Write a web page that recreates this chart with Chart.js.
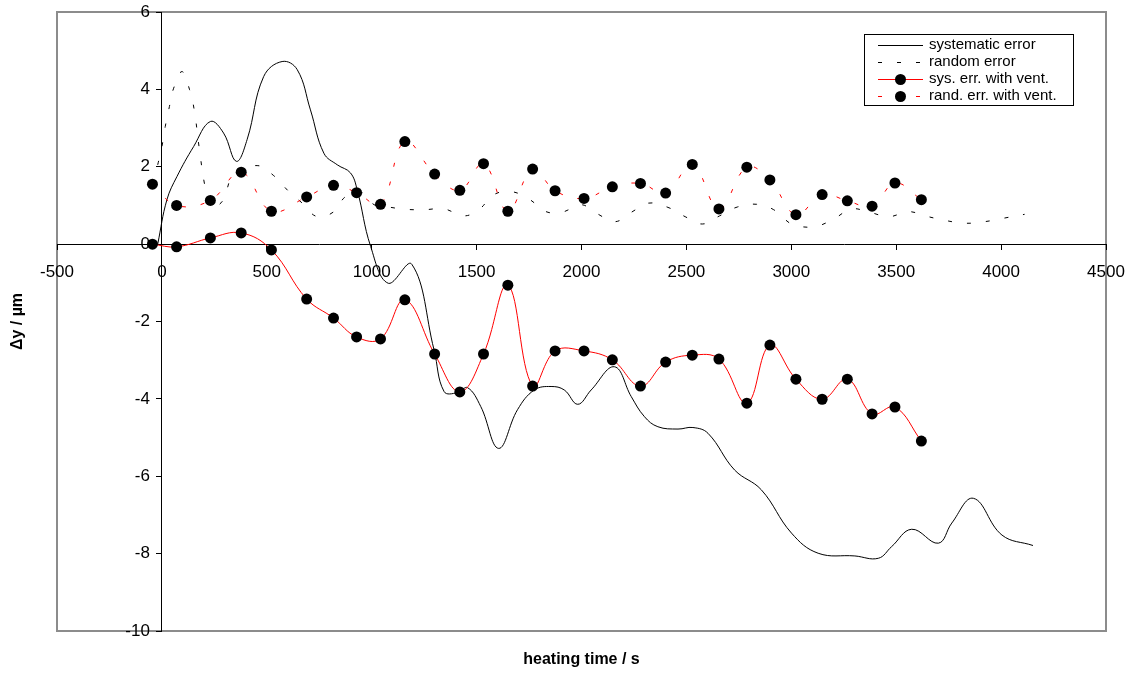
<!DOCTYPE html>
<html>
<head>
<meta charset="utf-8">
<script src="https://cdn.jsdelivr.net/npm/chart.js@4/dist/chart.umd.min.js"></script>
<style>
  html, body { margin: 0; padding: 0; background: #fff; }
  canvas { display: block; }
</style>
</head>
<body>
<canvas id="c" width="1127" height="675"></canvas>
<script>
const FONT = '"Liberation Sans", Arial, Helvetica, sans-serif';

// Heating time (s) of the ventilated measurements
const ventTime = [-45, 70, 231, 378, 522, 690, 818, 928, 1042, 1158, 1300, 1420, 1533, 1649, 1767,
                  1874, 2012, 2147, 2281, 2401, 2528, 2655, 2788, 2898, 3022, 3147, 3267, 3385, 3494, 3620];
// Systematic error with ventilation (µm)
const sysVent = [0.00, -0.07, 0.16, 0.29, -0.15, -1.42, -1.91, -2.40, -2.45, -1.44, -2.84, -3.82, -2.84, -1.06, -3.67,
                 -2.76, -2.76, -2.99, -3.67, -3.05, -2.87, -2.97, -4.11, -2.61, -3.49, -4.01, -3.49, -4.39, -4.21, -5.09];
// Random error with ventilation (µm)
const randVent = [1.55, 1.00, 1.13, 1.86, 0.85, 1.22, 1.52, 1.33, 1.03, 2.65, 1.81, 1.39, 2.08, 0.85, 1.94,
                  1.38, 1.18, 1.48, 1.57, 1.32, 2.06, 0.91, 1.99, 1.66, 0.76, 1.28, 1.12, 0.98, 1.58, 1.15];

// Systematic error without ventilation
const sysTime = [-20, 24, 72, 151, 231, 294, 355, 406, 485, 573, 645, 708, 772, 836, 899, 931, 995, 1078, 1191,
                 1297, 1345, 1409, 1457, 1520, 1605, 1695, 1775, 1855, 1918, 1982, 2046, 2157, 2237, 2300, 2364,
                 2460, 2531, 2603, 2730, 2857, 3001, 3128, 3303, 3415, 3478, 3574, 3701, 3765, 3868, 4004, 4152];
const sysErr = [0.00, 1.15, 1.75, 2.52, 3.17, 2.87, 2.14, 2.70, 4.33, 4.72, 4.51, 3.47, 2.35, 2.05, 1.84, 1.40, -0.06, -1.01, -0.52,
                -2.73, -3.81, -3.84, -3.71, -4.20, -5.28, -4.28, -3.77, -3.68, -3.77, -4.14, -3.77, -3.17, -3.94, -4.46, -4.72,
                -4.78, -4.74, -4.89, -5.84, -6.35, -7.47, -7.99, -8.06, -8.12, -7.82, -7.37, -7.73, -7.21, -6.57, -7.52, -7.79];

// Random error without ventilation
const randTime = [-20, 0, 16, 36, 56, 96, 132, 154, 178, 204, 231, 287, 342, 454, 533, 605, 669, 740, 820, 876,
                  955, 1011, 1067, 1162, 1249, 1345, 1440, 1515, 1579, 1663, 1751, 1831, 1910, 1998, 2077, 2160,
                  2240, 2319, 2412, 2494, 2576, 2658, 2743, 2834, 2916, 2993, 3033, 3120, 3208, 3287, 3375, 3466,
                  3558, 3645, 3736, 3828, 3921, 4012, 4112];
const randErr = [2.05, 2.52, 3.04, 3.56, 4.03, 4.46, 3.99, 3.47, 2.48, 1.53, 0.97, 1.10, 1.79, 2.03, 1.77, 1.36, 1.06, 0.71, 0.84, 1.23,
                 1.33, 1.02, 0.97, 0.90, 0.89, 0.91, 0.73, 0.91, 1.27, 1.36, 1.16, 0.84, 0.83, 1.02, 0.78, 0.58,
                 0.83, 1.06, 0.95, 0.71, 0.52, 0.73, 0.96, 1.03, 0.89, 0.54, 0.46, 0.46, 0.67, 0.91, 0.82, 0.71,
                 0.84, 0.72, 0.61, 0.54, 0.58, 0.67, 0.77];

// Axis ticks
const xTicks = [-500, 0, 500, 1000, 1500, 2000, 2500, 3000, 3500, 4000, 4500];
const yTicks = [-10, -8, -6, -4, -2, 0, 2, 4, 6];

const seriesNames = ['systematic error', 'random error', 'sys. err. with vent.', 'rand. err. with vent.'];

const zip = (xs, ys) => xs.map((x, i) => ({ x, y: ys[i] }));
const DASH = [4, 15];

const datasets = [
  { label: seriesNames[0], data: zip(sysTime, sysErr), borderColor: '#000', borderWidth: 1,
    pointRadius: 0, tension: 0.4, order: 3 },
  { label: seriesNames[1], data: zip(randTime, randErr), borderColor: '#000', borderWidth: 1,
    borderDash: DASH, pointRadius: 0, tension: 0.4, order: 4 },
  { label: seriesNames[2], data: zip(ventTime, sysVent), borderColor: '#ff0000', borderWidth: 1,
    pointRadius: 5.5, pointBackgroundColor: '#000', pointBorderColor: '#000', pointBorderWidth: 0,
    tension: 0.4, order: 1 },
  { label: seriesNames[3], data: zip(ventTime, randVent), borderColor: '#ff0000', borderWidth: 1,
    borderDash: DASH, pointRadius: 5.5, pointBackgroundColor: '#000', pointBorderColor: '#000',
    pointBorderWidth: 0, tension: 0.4, order: 2 }
];

const decor = {
  id: 'decor',
  beforeDraw(chart) {
    const { ctx, chartArea: a } = chart;
    ctx.save();
    ctx.fillStyle = '#fff';
    ctx.fillRect(0, 0, chart.width, chart.height);
    ctx.strokeStyle = '#8c8c8c';
    ctx.lineWidth = 2;
    ctx.strokeRect(a.left, a.top, a.right - a.left, a.bottom - a.top);
    ctx.restore();
  },
  beforeDatasetsDraw(chart) {
    // value labels of the vertical axis, left of the axis line at x = 0
    const { ctx } = chart;
    const xs = chart.scales.x, ys = chart.scales.y;
    const x0 = xs.getPixelForValue(0) - 5 - 7;
    ctx.save();
    ctx.font = '17px ' + FONT;
    ctx.fillStyle = '#000';
    ctx.textAlign = 'right';
    ctx.textBaseline = 'middle';
    ys.ticks.forEach(t => ctx.fillText(String(t.value), x0, ys.getPixelForValue(t.value)));
    ctx.restore();
  },
  afterDraw(chart) {
    const { ctx, chartArea: a } = chart;
    ctx.save();
    // axis titles
    ctx.fillStyle = '#000';
    ctx.font = 'bold 16px ' + FONT;
    ctx.textAlign = 'center';
    ctx.textBaseline = 'middle';
    ctx.fillText('heating time / s', (a.left + a.right) / 2, 660);
    ctx.translate(18, (a.top + a.bottom) / 2);
    ctx.rotate(-Math.PI / 2);
    ctx.fillText('\u0394y / \u00b5m', 0, 0);
    ctx.restore();

    // legend
    ctx.save();
    const bx = 864.5, by = 34.5, bw = 209, bh = 71;
    ctx.fillStyle = '#fff';
    ctx.fillRect(bx, by, bw, bh);
    ctx.strokeStyle = '#000';
    ctx.lineWidth = 1;
    ctx.strokeRect(bx, by, bw, bh);
    const rows = [45, 62, 79, 96];
    ctx.font = '15px ' + FONT;
    ctx.textAlign = 'left';
    ctx.textBaseline = 'middle';
    chart.data.datasets.forEach((ds, i) => {
      const y = rows[i] + 0.5;
      ctx.save();
      ctx.strokeStyle = ds.borderColor;
      ctx.lineWidth = 1;
      ctx.setLineDash(ds.borderDash || []);
      ctx.beginPath();
      ctx.moveTo(878, y);
      ctx.lineTo(923, y);
      ctx.stroke();
      ctx.restore();
      if (ds.pointRadius > 0) {
        ctx.fillStyle = '#000';
        ctx.beginPath();
        ctx.arc(900.5, y, ds.pointRadius, 0, Math.PI * 2);
        ctx.fill();
      }
      ctx.fillStyle = '#000';
      ctx.fillText(ds.label, 929, rows[i]);
    });
    ctx.restore();
  }
};

new Chart(document.getElementById('c'), {
  type: 'line',
  data: { datasets },
  options: {
    responsive: false,
    animation: false,
    devicePixelRatio: 1,
    layout: { padding: { left: 57, top: 12, right: 21, bottom: 44 } },
    plugins: { legend: { display: false }, tooltip: { enabled: false } },
    scales: {
      x: {
        type: 'linear',
        position: { y: 0 },
        min: -500, max: 4500,
        afterBuildTicks: s => { s.ticks = xTicks.map(v => ({ value: v })); },
        afterFit: s => { s.paddingLeft = 0; s.paddingRight = 0; s.paddingTop = 0; s.paddingBottom = 0; },
        grid: { drawOnChartArea: false, drawTicks: true, tickLength: 5, color: '#000', lineWidth: 1 },
        border: { display: true, color: '#000', width: 1 },
        ticks: { color: '#000', font: { family: FONT, size: 17 }, padding: 13, maxRotation: 0, autoSkip: false,
                 callback: v => String(v) }
      },
      y: {
        type: 'linear',
        position: { x: 0 },
        min: -10, max: 6,
        afterBuildTicks: s => { s.ticks = yTicks.map(v => ({ value: v })); },
        afterFit: s => { s.paddingLeft = 0; s.paddingRight = 0; s.paddingTop = 0; s.paddingBottom = 0; },
        grid: { drawOnChartArea: false, drawTicks: true, tickLength: 5, color: '#000', lineWidth: 1 },
        border: { display: true, color: '#000', width: 1 },
        ticks: { display: false }
      }
    }
  },
  plugins: [decor]
});
</script>
</body>
</html>
